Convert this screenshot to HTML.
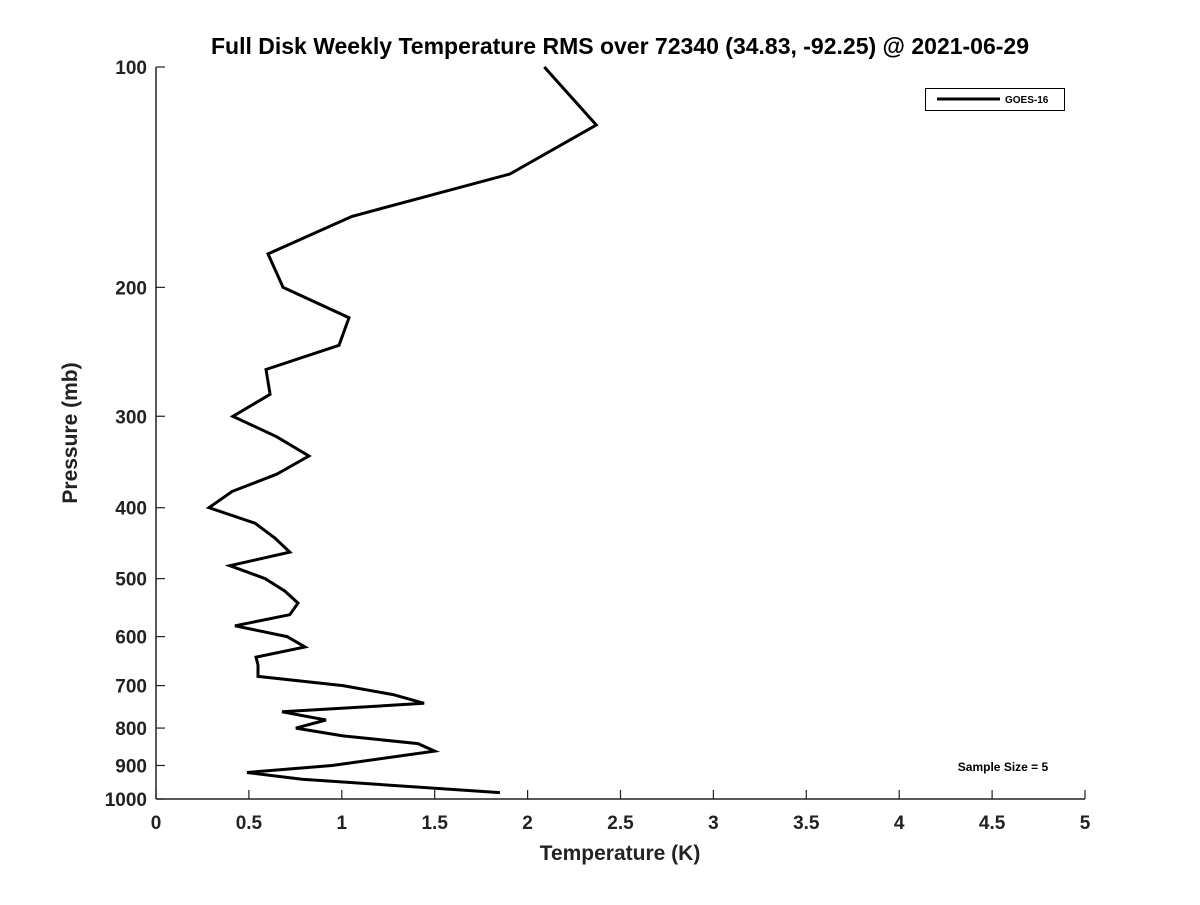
<!DOCTYPE html>
<html><head><meta charset="utf-8"><style>
body{margin:0;background:#fff;}
svg text{font-family:"Liberation Sans","DejaVu Sans",sans-serif;font-weight:bold;fill:#222;}
</style></head><body>
<svg id="chart" width="1200" height="900" viewBox="0 0 1200 900" xmlns="http://www.w3.org/2000/svg">
<rect width="1200" height="900" fill="#fff"/>
<text x="620" y="54" font-size="23" text-anchor="middle" style="fill:#000">Full Disk Weekly Temperature RMS over 72340 (34.83, -92.25) @ 2021-06-29</text>
<g id="axes"></g>
<path id="line" fill="none" stroke="#000" stroke-width="3" stroke-linejoin="miter"/>
<g>
<rect x="925.5" y="88.5" width="139" height="22" fill="#fff" stroke="#000" stroke-width="1"/>
<line x1="937" y1="99" x2="1000" y2="99" stroke="#000" stroke-width="3"/>
<text x="1005" y="103" font-size="10" style="fill:#000">GOES-16</text>
</g>
<text x="1003" y="771" font-size="12" text-anchor="middle" style="fill:#000">Sample Size = 5</text>
<text x="620" y="860" font-size="21" text-anchor="middle">Temperature (K)</text>
<text transform="translate(77,433) rotate(-90)" font-size="21" text-anchor="middle">Pressure (mb)</text>
</svg>
<script>
const pressures=[100,120,140,160,180,200,220,240,259,280,300,320,340,360,380,400,420,440,460,480,500,520,540,560,580,600,620,640,656,680,700,720,740,760,780,800,820,840,860,900,920,940,980];
const rmsValues=[2.09,2.37,1.905,1.055,0.603,0.684,1.039,0.985,0.592,0.614,0.414,0.65,0.823,0.65,0.41,0.285,0.533,0.64,0.72,0.398,0.587,0.694,0.764,0.72,0.425,0.705,0.802,0.538,0.549,0.549,1.006,1.276,1.443,0.678,0.915,0.753,1.006,1.41,1.5,0.947,0.49,0.786,1.851];
const xTicks=[0,0.5,1,1.5,2,2.5,3,3.5,4,4.5,5];
const xTickLabels=["0","0.5","1","1.5","2","2.5","3","3.5","4","4.5","5"];
const yTicks=[100,200,300,400,500,600,700,800,900,1000];
const yTickLabels=["100","200","300","400","500","600","700","800","900","1000"];
const X0=156,X1=1085,Y0=67,Y1=799;
function xs(v){return X0+(v-0)/(5-0)*(X1-X0);}
function ys(p){return Y0+Math.log10(p/100)*(Y1-Y0);}
const NS="http://www.w3.org/2000/svg";
const ax=document.getElementById('axes');
function mk(t,a){const e=document.createElementNS(NS,t);for(const k in a)e.setAttribute(k,a[k]);return e;}
let l=mk('line',{x1:X0,y1:Y0,x2:X0,y2:Y1,stroke:'#222','stroke-width':1.5});


ax.appendChild(l);
l=mk('line',{x1:X0,y1:Y1,x2:X1,y2:Y1,stroke:'#222','stroke-width':1.5});


ax.appendChild(l);
xTicks.forEach((v,i)=>{
 const t=mk('line',{x1:xs(v),y1:Y1,x2:xs(v),y2:Y1-9,stroke:'#222','stroke-width':1.2});
 
 
 ax.appendChild(t);
 const tx=mk('text',{x:xs(v),y:Y1+30,'font-size':19,'text-anchor':'middle'});
 tx.textContent=xTickLabels[i];
 
 
 ax.appendChild(tx);
});
yTicks.forEach((p,i)=>{
 const t=mk('line',{x1:X0,y1:ys(p),x2:X0+9,y2:ys(p),stroke:'#222','stroke-width':1.2});
 
 
 ax.appendChild(t);
 const tx=mk('text',{x:X0-9,y:ys(p)+7,'font-size':19,'text-anchor':'end'});
 tx.textContent=yTickLabels[i];
 
 
 ax.appendChild(tx);
});
document.getElementById('line').setAttribute('d',pressures.map((p,i)=>(i?'L':'M')+xs(rmsValues[i]).toFixed(1)+','+ys(p).toFixed(1)).join(''));
</script>
</body></html>
